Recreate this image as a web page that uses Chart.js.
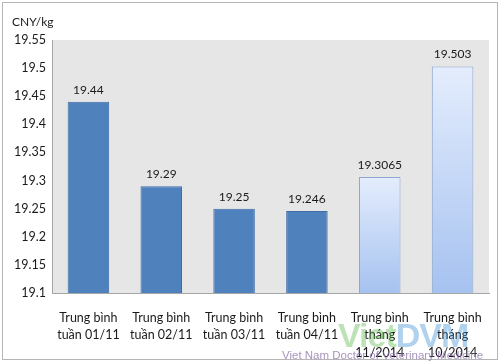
<!DOCTYPE html>
<html>
<head>
<meta charset="utf-8">
<script src="https://cdn.jsdelivr.net/npm/chart.js@4"></script>
<style>
    body { margin: 0; background: #fff; }
    #wrap { position: relative; width: 500px; height: 363px; }
    #mark { position: absolute; left: 282px; top: 318px; width: 200px; height: 44px; pointer-events: none; font-family: 'Liberation Sans Narrow', 'Liberation Sans', sans-serif; }
    #mark .big { position: absolute; left: 56px; top: 0; font-size: 34px; line-height: 34px; font-weight: bold; letter-spacing: -1px; opacity: 0.4; }
    #mark .small { position: absolute; left: 0; top: 31px; font-size: 11.5px; color: #8a6fa8; opacity: 0.75; white-space: nowrap; }
</style>
</head>
<body>
<div id="wrap">
    <canvas id="chart" width="500" height="363"></canvas>
    <div id="mark">
        <span class="big"><span style="color:#58b947">Viet</span><span style="color:#3e8fd6">DVM</span></span>
        <span class="small">Viet Nam Doctor of Veterinary Medicine</span>
    </div>
</div>
<script>
// Datos
const categories = [
    ['Trung bình', 'tuần 01/11'],
    ['Trung bình', 'tuần 02/11'],
    ['Trung bình', 'tuần 03/11'],
    ['Trung bình', 'tuần 04/11'],
    ['Trung bình', 'tháng', '11/2014'],
    ['Trung bình', 'tháng', '10/2014']
];
const prices = [19.44, 19.29, 19.25, 19.246, 19.3065, 19.503];
const valueLabels = ['19.44', '19.29', '19.25', '19.246', '19.3065', '19.503'];
const unitLabel = 'CNY/kg';

const FONT = 'Lato, "Open Sans", sans-serif';

// Fondo, borde y etiquetas
const decor = {
    id: 'decor',
    beforeDraw(chart) {
        const { ctx, chartArea } = chart;
        ctx.save();
        ctx.fillStyle = '#fff';
        ctx.fillRect(0, 0, chart.width, chart.height);
        ctx.strokeStyle = '#b5b5b5';
        ctx.lineWidth = 1;
        ctx.strokeRect(2.5, 2.5, 495, 357);
        ctx.fillStyle = '#e6e6e6';
        ctx.fillRect(chartArea.left, chartArea.top, chartArea.right - chartArea.left, chartArea.bottom - chartArea.top);
        ctx.fillStyle = '#1a1a1a';
        ctx.font = '12px ' + FONT;
        ctx.textBaseline = 'middle';
        ctx.fillText(unitLabel, 12, 22);
        ctx.restore();
    },
    afterDatasetsDraw(chart) {
        const { ctx } = chart;
        const meta = chart.getDatasetMeta(0);
        ctx.save();
        ctx.fillStyle = '#1a1a1a';
        ctx.font = '12px ' + FONT;
        ctx.textAlign = 'center';
        ctx.textBaseline = 'bottom';
        meta.data.forEach((bar, i) => {
            ctx.fillText(valueLabels[i], bar.x, bar.y - 6);
        });
        ctx.restore();
    }
};

function barColor(context) {
    const i = context.dataIndex;
    if (i < 4) return '#4f81bd';
    const chart = context.chart;
    const area = chart.chartArea;
    const yScale = chart.scales.y;
    if (!area || !yScale) return '#c6d9f7';
    const top = yScale.getPixelForValue(prices[i]);
    if (!isFinite(top) || !isFinite(area.bottom)) return '#c6d9f7';
    const g = chart.ctx.createLinearGradient(0, top, 0, area.bottom);
    g.addColorStop(0, '#e4edfd');
    g.addColorStop(1, '#a6c2f0');
    return g;
}

new Chart(document.getElementById('chart'), {
    type: 'bar',
    data: {
        labels: categories,
        datasets: [{
            data: prices,
            backgroundColor: barColor,
            borderColor: prices.map((v, i) => i < 4 ? '#3e6ea8' : '#8ea8cf'),
            borderWidth: 1,
            barPercentage: 0.57,
            categoryPercentage: 1
        }]
    },
    options: {
        responsive: false,
        animation: false,
        layout: { padding: { top: 40, right: 11, left: 0, bottom: 0 } },
        plugins: { legend: { display: false }, tooltip: { enabled: false } },
        scales: {
            x: {
                grid: { display: false, drawTicks: false },
                border: { color: '#a6a6a6' },
                ticks: { color: '#1a1a1a', font: { family: FONT, size: 12.5, lineHeight: 1.4 }, padding: 16, maxRotation: 0, autoSkip: false },
                afterFit(scale) { scale.height = 70; }
            },
            y: {
                min: 19.1,
                max: 19.55,
                grid: { display: false, drawTicks: false },
                border: { color: '#a6a6a6' },
                ticks: {
                    stepSize: 0.05,
                    color: '#1a1a1a',
                    font: { family: FONT, size: 12.5 },
                    padding: 6,
                    callback: (v) => String(Number(v.toFixed(2)))
                },
                afterFit(scale) { scale.width = 52; }
            }
        }
    },
    plugins: [decor]
});
</script>
</body>
</html>
